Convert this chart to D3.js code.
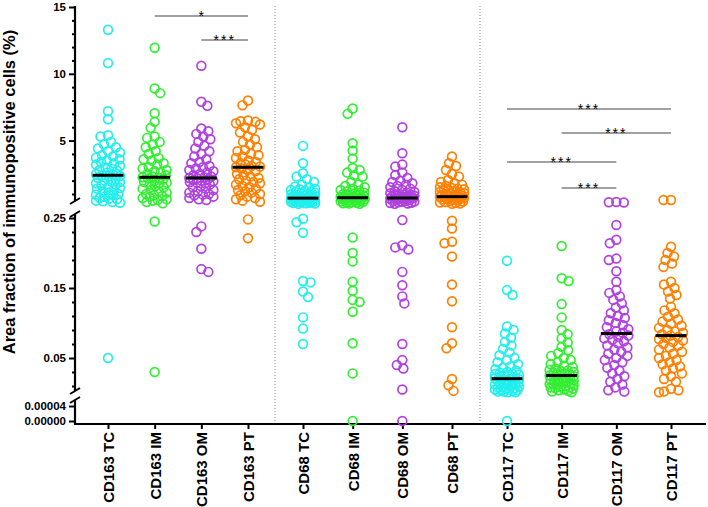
<!DOCTYPE html>
<html><head><meta charset="utf-8">
<script src="https://cdn.jsdelivr.net/npm/d3@7"></script>
<style>
body{margin:0;background:#fff;}
svg{display:block;}
text{font-family:"Liberation Sans",Arial,sans-serif;}
</style>
</head><body>
<svg id="chart" width="708" height="507"></svg>
<script>
// ---------------- DATA ----------------
const categories = ["CD163 TC","CD163 IM","CD163 OM","CD163 PT","CD68 TC","CD68 IM","CD68 OM","CD68 PT","CD117 TC","CD117 IM","CD117 OM","CD117 PT"];
const regionColors = ["#22EEEE","#33EE33","#B040E0","#FF8000"];

const topTicks = [5, 10, 15];
const midTicks = [0.05, 0.15, 0.25];
const botTicks = [0, 0.00004];

const cd163TC = [13.3,10.8,7.2,6.6,5.4,5.3,4.9,4.7,4.5,4.4,4.2,4.1,3.9,3.8,3.7,3.6,3.5,3.4,3.3,3.2,3.1,3.0,2.9,2.8,2.75,2.6,2.5,2.45,2.4,2.35,2.3,2.2,2.1,2.0,1.95,1.9,1.8,1.7,1.65,1.5,1.45,1.4,1.3,1.2,1.1,1.0,0.95,0.9,0.8,0.7,0.65,0.6,0.5,0.45,0.4,0.35,0.05];
const cd163IM = [11.95,8.9,8.55,7.05,6.4,5.95,5.3,5.2,4.9,4.7,4.5,4.2,4.0,3.7,3.6,3.5,3.3,3.2,3.0,2.9,2.8,2.7,2.6,2.5,2.4,2.3,2.25,2.2,2.15,2.1,2.0,1.9,1.85,1.8,1.7,1.6,1.5,1.4,1.3,1.2,1.1,1.0,0.9,0.85,0.8,0.7,0.6,0.55,0.5,0.4,0.3,0.245,0.03];
const cd163OM = [10.6,7.9,7.6,5.9,5.7,5.5,5.3,5.1,4.9,4.6,4.4,4.2,4.0,3.8,3.6,3.4,3.3,3.1,3.0,2.9,2.8,2.7,2.6,2.5,2.4,2.3,2.25,2.2,2.17,2.1,2.05,2.0,1.95,1.9,1.85,1.8,1.7,1.6,1.5,1.4,1.3,1.2,1.1,1.0,0.95,0.9,0.8,0.7,0.6,0.55,0.238,0.23,0.206,0.177,0.173];
const cd163PT = [8.0,7.65,6.5,6.45,6.4,6.3,6.2,6.0,5.8,5.6,5.3,5.1,4.9,4.7,4.5,4.3,4.2,4.0,3.9,3.8,3.7,3.5,3.4,3.3,3.2,3.1,3.05,3.0,2.9,2.8,2.7,2.5,2.4,2.3,2.2,2.1,2.0,1.9,1.8,1.7,1.6,1.5,1.4,1.3,1.2,1.1,1.0,0.9,0.8,0.7,0.6,0.5,0.42,0.248,0.221];
const cd68TC = [4.6,3.3,2.55,2.3,2.1,1.9,1.7,1.55,1.5,1.4,1.35,1.3,1.25,1.2,1.15,1.1,1.05,1.0,0.98,0.95,0.92,0.9,0.88,0.85,0.82,0.8,0.78,0.76,0.74,0.72,0.7,0.7,0.68,0.66,0.64,0.62,0.6,0.58,0.56,0.54,0.52,0.5,0.48,0.46,0.44,0.42,0.4,0.38,0.36,0.34,0.32,0.3,0.28,0.26,0.249,0.244,0.229,0.16,0.158,0.145,0.137,0.108,0.092,0.07];
const cd68IM = [7.4,7.0,4.8,4.25,3.65,2.95,2.8,2.6,2.4,2.3,1.9,1.7,1.6,1.5,1.4,1.3,1.25,1.2,1.1,1.05,1.0,0.97,0.94,0.9,0.87,0.84,0.8,0.78,0.76,0.74,0.72,0.7,0.68,0.66,0.64,0.62,0.6,0.58,0.55,0.52,0.5,0.48,0.45,0.42,0.4,0.37,0.34,0.31,0.28,0.26,0.222,0.2,0.188,0.159,0.146,0.133,0.13,0.116,0.071,0.028,0];
const cd68OM = [6.0,4.05,3.2,3.05,2.6,2.4,2.2,2.0,1.9,1.8,1.7,1.6,1.5,1.4,1.3,1.2,1.15,1.1,1.05,1.0,0.97,0.94,0.9,0.87,0.84,0.8,0.78,0.76,0.74,0.72,0.7,0.68,0.66,0.64,0.62,0.6,0.57,0.54,0.5,0.47,0.44,0.41,0.38,0.35,0.32,0.29,0.26,0.247,0.211,0.208,0.205,0.173,0.154,0.138,0.128,0.07,0.047,0.04,0.035,0.005,0];
const cd68PT = [3.8,3.3,3.1,2.8,2.5,2.3,2.05,1.9,1.8,1.7,1.6,1.5,1.45,1.4,1.35,1.3,1.25,1.2,1.15,1.1,1.07,1.04,1.0,0.97,0.94,0.9,0.87,0.84,0.82,0.8,0.78,0.76,0.73,0.7,0.67,0.64,0.6,0.56,0.52,0.48,0.44,0.4,0.36,0.32,0.28,0.26,0.246,0.235,0.216,0.214,0.195,0.155,0.131,0.094,0.071,0.064,0.02,0.011,0.003];
const cd117TC = [0.189,0.147,0.14,0.095,0.09,0.085,0.079,0.073,0.068,0.063,0.058,0.054,0.05,0.047,0.044,0.041,0.038,0.036,0.034,0.032,0.03,0.029,0.028,0.027,0.026,0.025,0.024,0.023,0.022,0.021,0.02,0.02,0.019,0.019,0.018,0.017,0.016,0.015,0.015,0.014,0.013,0.012,0.012,0.011,0.01,0.009,0.009,0.008,0.007,0.006,0.006,0.005,0.004,0.004,0.003,0.002,0.002,0.001,0.001,0];
const cd117IM = [0.21,0.164,0.16,0.127,0.108,0.09,0.084,0.078,0.072,0.066,0.061,0.057,0.053,0.05,0.047,0.044,0.041,0.039,0.037,0.035,0.033,0.032,0.031,0.03,0.029,0.028,0.027,0.026,0.025,0.025,0.024,0.023,0.022,0.021,0.02,0.02,0.019,0.018,0.017,0.016,0.016,0.015,0.014,0.013,0.012,0.012,0.011,0.01,0.009,0.008,0.008,0.007,0.006,0.005,0.004,0.003,0.002,0.001];
const cd117OM = [0.4,0.38,0.36,0.24,0.219,0.214,0.192,0.19,0.174,0.159,0.147,0.143,0.138,0.133,0.128,0.122,0.118,0.114,0.11,0.107,0.104,0.1,0.097,0.094,0.091,0.088,0.086,0.084,0.082,0.08,0.078,0.076,0.074,0.071,0.068,0.065,0.062,0.059,0.056,0.053,0.05,0.047,0.044,0.04,0.036,0.032,0.028,0.024,0.02,0.016,0.012,0.008,0.004,0.002];
const cd117PT = [0.55,0.55,0.209,0.2,0.195,0.19,0.185,0.18,0.159,0.155,0.15,0.145,0.14,0.135,0.123,0.118,0.114,0.109,0.105,0.102,0.099,0.096,0.093,0.09,0.088,0.086,0.084,0.082,0.08,0.079,0.077,0.075,0.073,0.07,0.068,0.065,0.062,0.059,0.056,0.053,0.05,0.047,0.044,0.041,0.038,0.035,0.032,0.028,0.024,0.02,0.016,0.006,0.004,0.002,0.001];

const groupValues = [cd163TC,cd163IM,cd163OM,cd163PT,cd68TC,cd68IM,cd68OM,cd68PT,cd117TC,cd117IM,cd117OM,cd117PT];

// significance comparisons: [from index, to index, label]
const comparisons = [[1,3,"*"],[2,3,"***"],[8,11,"***"],[9,11,"***"],[8,10,"***"],[9,10,"***"]];

// ---------------- LAYOUT ----------------
const svg = d3.select("#chart");
const axisX = 75, baseY = 424, rightX = 706;

const x = d3.scaleLinear().domain([0,3,4,7,8,11]).range([108,248,303,452,507,671]);

const yTop = d3.scaleLinear().domain([0.25, 15]).range([204, 7]);
const yMid = d3.scaleLinear().domain([0, 0.25]).range([393, 218]);
const yBot = d3.scaleLinear().domain([0, 0.00004]).range([421, 406]);
function yPos(v){
  if (v >= 0.25) return yTop(v);
  if (v >= 0.0005) return yMid(v);
  return yBot(v);
}

// separators
[275, 480].forEach(sx => {
  svg.append("line").attr("x1",sx).attr("x2",sx).attr("y1",6).attr("y2",baseY)
    .attr("stroke","#8a8a8a").attr("stroke-width",1).attr("stroke-dasharray","1,2");
});

// y axis segments
function drawSeg(scale, major, minor, fmt, y1, y2){
  const g = svg.append("g").attr("transform",`translate(${axisX},0)`);
  g.call(d3.axisLeft(scale).tickValues(major).tickSize(6).tickPadding(3).tickFormat(fmt));
  g.select(".domain").remove();
  g.selectAll(".tick line").attr("stroke","#000").attr("stroke-width",2);
  g.selectAll(".tick text").attr("font-size",11.5).attr("font-weight","bold").attr("fill","#000")
    .style("font-family","'Liberation Sans',Arial,sans-serif");
  if (minor.length){
    const gm = svg.append("g").attr("transform",`translate(${axisX},0)`);
    gm.call(d3.axisLeft(scale).tickValues(minor).tickSize(3).tickFormat(""));
    gm.select(".domain").remove();
    gm.selectAll(".tick line").attr("stroke","#000").attr("stroke-width",2);
  }
  svg.append("line").attr("x1",axisX).attr("x2",axisX).attr("y1",y1).attr("y2",y2)
    .attr("stroke","#000").attr("stroke-width",2.2);
}
drawSeg(yTop, topTicks, [1,2,3,4,6,7,8,9,11,12,13,14], d3.format("d"), 6, 201);
drawSeg(yMid, midTicks, [0.01,0.03,0.07,0.09,0.11,0.13,0.17,0.19,0.21,0.23], d3.format(".2f"), 214, 391);
drawSeg(yBot, botTicks, [], d3.format(".5f"), 400, baseY+1);

// break marks
[201, 214, 391, 400].forEach(by => {
  svg.append("line").attr("x1",axisX-5).attr("x2",axisX+5).attr("y1",by+3).attr("y2",by-3)
    .attr("stroke","#000").attr("stroke-width",2);
});

// x axis
const gx = svg.append("g").attr("transform",`translate(0,${baseY})`);
gx.call(d3.axisBottom(x).tickValues(d3.range(categories.length)).tickSize(5).tickFormat(i => categories[i]));
gx.select(".domain").remove();
gx.selectAll(".tick line").attr("stroke","#000").attr("stroke-width",2);
gx.selectAll(".tick text")
  .attr("transform","rotate(-90)").attr("x",-8).attr("y",0).attr("dy","0.36em")
  .style("text-anchor","end").attr("font-size",15).attr("font-weight","bold").attr("fill","#000")
  .style("font-family","'Liberation Sans',Arial,sans-serif");
svg.append("line").attr("x1",axisX-1).attr("x2",rightX).attr("y1",baseY).attr("y2",baseY)
  .attr("stroke","#000").attr("stroke-width",2.2);

// y title
svg.append("text").attr("transform","translate(15,192) rotate(-90)")
  .attr("text-anchor","middle").attr("font-size",16.5).attr("font-weight","bold")
  .text("Area fraction of immunopositive cells (%)");

// beeswarm placement
function swarm(vals){
  const pts = vals.map(v => ({v, y: yPos(v)})).sort((a,b)=>a.y-b.y);
  const placed = [];
  const D = 7.2, W = 12;
  pts.forEach((p,i) => {
    const offs = [0];
    for (let k=0.5; k<=W; k+=0.5){ if (i%2) offs.push(-k,k); else offs.push(k,-k); }
    let best = 0, bestScore = -1;
    for (const dx of offs){
      let md = Infinity;
      for (const q of placed){
        const dy = q.y - p.y;
        if (Math.abs(dy) >= D) continue;
        const dd = Math.hypot(q.dx - dx, dy);
        if (dd < md) md = dd;
      }
      if (md >= D){ best = dx; bestScore = Infinity; break; }
      if (md > bestScore){ bestScore = md; best = dx; }
    }
    p.dx = best; placed.push(p);
  });
  return pts;
}

groupValues.forEach((vals, gi) => {
  const color = regionColors[gi % 4];
  const pts = swarm(vals);
  svg.append("g").selectAll("circle").data(pts).join("circle")
    .attr("cx", d => x(gi) + d.dx).attr("cy", d => d.y).attr("r", 4.4)
    .attr("fill","none").attr("stroke", color).attr("stroke-width", 1.7);
});
groupValues.forEach((vals, gi) => {
  const m = d3.median(vals);
  svg.append("line").attr("x1", x(gi)-15.5).attr("x2", x(gi)+15.5)
    .attr("y1", yPos(m)).attr("y2", yPos(m)).attr("stroke","#000").attr("stroke-width",3);
});

// significance brackets
const bracketY = [16, 40, 109, 133, 162, 188];
comparisons.forEach(([a,b,label], i) => {
  const yy = bracketY[i];
  svg.append("line").attr("x1", x(a)).attr("x2", x(b)).attr("y1", yy).attr("y2", yy)
    .attr("stroke","#444").attr("stroke-width",1.2);
  svg.append("text").attr("x", (x(a)+x(b))/2).attr("y", yy + 5)
    .attr("text-anchor","middle").attr("font-size",14).attr("letter-spacing", label.length>1 ? "2px" : "0px")
    .attr("fill","#000").text(label);
});
</script>
</body></html>
